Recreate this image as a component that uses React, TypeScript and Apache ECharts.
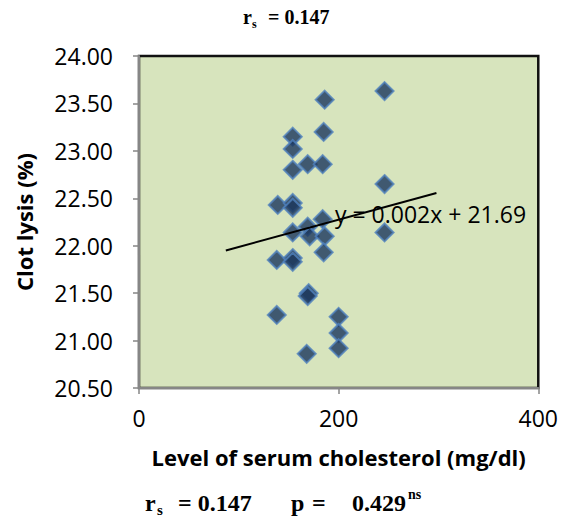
import React, { useEffect, useRef } from "react";
import * as echarts from "echarts";

const cholesterol = [246, 186, 185, 154, 154, 169, 184, 154, 246, 139, 154, 154, 184, 169, 154, 246, 171, 186, 185, 138, 154, 154, 170, 169, 138, 200, 200, 200, 168];
const clotLysis = [23.63, 23.54, 23.2, 23.15, 23.02, 22.86, 22.86, 22.8, 22.65, 22.43, 22.45, 22.4, 22.28, 22.2, 22.14, 22.14, 22.1, 22.1, 21.93, 21.85, 21.87, 21.83, 21.5, 21.47, 21.27, 21.25, 21.08, 20.92, 20.86];
const trendX = [87, 298];
const trendY = [21.95, 22.555];
const equationText = "y = 0.002x + 21.69";
const xTicks = [0, 200, 400];
const yTicks = ["20.50", "21.00", "21.50", "22.00", "22.50", "23.00", "23.50", "24.00"];

export default function App() {
  const ref = useRef<HTMLDivElement>(null);
  useEffect(() => {
    if (!ref.current) return;
    const chart = echarts.init(ref.current, null, { renderer: "svg" });
    const font = "'Open Sans', 'Noto Sans', sans-serif";
    const serif = "'Liberation Serif', 'DejaVu Serif', serif";
    const t = (text: string, x: number, y: number, size: number, family = serif, bold = true) => ({
      type: "text",
      x,
      y,
      z: 10,
      style: {
        text,
        fontFamily: family,
        fontWeight: bold ? "bold" : "normal",
        fontSize: size,
        fill: "#000",
        align: "left",
        verticalAlign: "middle",
      },
    });
    chart.setOption({
      animation: false,
      backgroundColor: "#ffffff",
      grid: {
        left: 139,
        top: 56,
        right: 20,
        bottom: 139,
        show: true,
        backgroundColor: "#D7E4BD",
        borderColor: "#111111",
        borderWidth: 2.5,
      },
      xAxis: {
        type: "value",
        min: xTicks[0],
        max: xTicks[xTicks.length - 1],
        interval: 200,
        name: "Level of serum cholesterol (mg/dl)",
        nameLocation: "middle",
        nameGap: 58,
        nameTextStyle: { fontFamily: font, fontWeight: "bold", fontSize: 22, color: "#000" },
        axisLine: { show: true, lineStyle: { color: "#868686", width: 2 } },
        axisTick: { show: true, length: 6, lineStyle: { color: "#868686", width: 1.5 } },
        axisLabel: { fontFamily: font, fontSize: 23, color: "#000", margin: 18 },
        splitLine: { show: false },
      },
      yAxis: {
        type: "value",
        min: 20.5,
        max: 24,
        interval: 0.5,
        name: "Clot lysis (%)",
        nameLocation: "middle",
        nameGap: 104,
        nameTextStyle: { fontFamily: font, fontWeight: "bold", fontSize: 22, color: "#000" },
        axisLine: { show: true, lineStyle: { color: "#868686", width: 2 } },
        axisTick: { show: true, length: 6, lineStyle: { color: "#868686", width: 1.5 } },
        axisLabel: {
          fontFamily: font,
          fontSize: 23,
          color: "#000",
          margin: 26,
          formatter: (v: number) => yTicks.find((s) => Math.abs(parseFloat(s) - v) < 1e-6) ?? v.toFixed(2),
        },
        splitLine: { show: false },
      },
      series: [
        {
          type: "line",
          data: trendX.map((x, i) => [x, trendY[i]]),
          symbol: "none",
          lineStyle: { color: "#000", width: 2 },
          z: 3,
          silent: true,
        },
        {
          type: "scatter",
          data: cholesterol.map((x, i) => [x, clotLysis[i]]),
          symbol: "diamond",
          symbolSize: 18,
          itemStyle: { color: "#1A365C", borderColor: "#4F81BD", borderWidth: 2 },
          z: 2,
        },
      ],
      graphic: [
        t(equationText, 335, 214, 23, font, false),
        t("r", 243, 17, 20),
        t("s", 252, 24, 12),
        t("= 0.147", 268, 17, 20),
        t("r", 145, 503, 24),
        t("s", 157, 510, 15),
        t("= 0.147", 178, 503, 24),
        t("p", 291, 503, 24),
        t("=", 312, 503, 24),
        t("0.429", 352, 503, 24),
        t("ns", 408, 494, 14),
      ],
    });
    return () => chart.dispose();
  }, []);
  return <div ref={ref} style={{ position: "fixed", left: 0, top: 0, width: 561, height: 527 }} />;
}
